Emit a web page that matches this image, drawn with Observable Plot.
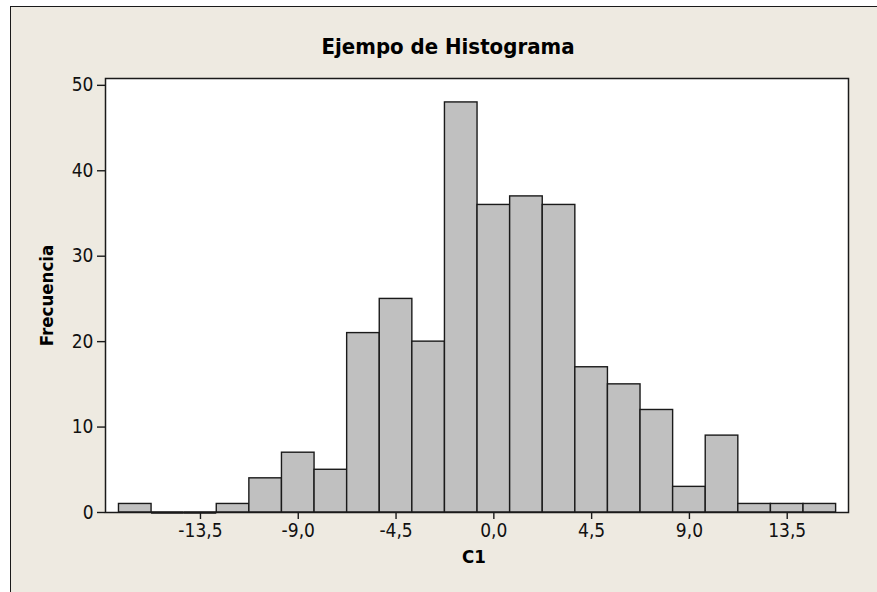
<!DOCTYPE html>
<html>
<head>
<meta charset="utf-8">
<script src="https://cdn.jsdelivr.net/npm/d3@7"></script>
<script src="https://cdn.jsdelivr.net/npm/@observablehq/plot@0.6"></script>
<style>
  html, body { margin: 0; padding: 0; background: #ffffff; overflow: hidden; }
  #bg { position: absolute; left: 10px; top: 6px; width: 900px; height: 700px;
        background: #EEEAE1; border: 1.5px solid #1a1a1a; box-sizing: border-box; }
  #chart { position: absolute; left: 0; top: 0; }
</style>
</head>
<body>
<div id="bg"></div>
<div id="chart"></div>
<script>
const title = "Ejempo de Histograma";
const xLabel = "C1";
const yLabel = "Frecuencia";
const binWidth = 1.5;
const binCenters = [-16.5, -15, -13.5, -12, -10.5, -9, -7.5, -6, -4.5, -3, -1.5, 0, 1.5, 3, 4.5, 6, 7.5, 9, 10.5, 12, 13.5, 15];
const frequencies = [1, 0, 0, 1, 4, 7, 5, 21, 25, 20, 48, 36, 37, 36, 17, 15, 12, 3, 9, 1, 1, 1];
const xTicks = [-13.5, -9, -4.5, 0, 4.5, 9, 13.5];
const yTicks = [0, 10, 20, 30, 40, 50];

const bins = binCenters.map((c, i) => ({x1: c - binWidth / 2, x2: c + binWidth / 2, n: frequencies[i]}));
const fmt = d => d.toFixed(1).replace(".", ",");
const FONT = "'DejaVu Sans Condensed', 'DejaVu Sans', sans-serif";

const chart = Plot.plot({
  width: 877,
  height: 592,
  marginLeft: 105,
  marginRight: 29,
  marginTop: 78,
  marginBottom: 80,
  style: {background: "transparent", fontFamily: FONT, fontSize: "19px", color: "#111"},
  x: {domain: [-17.87, 16.32]},
  y: {domain: [0, 50.8]},
  marks: [
    Plot.frame({fill: "white"}),
    Plot.rectY(bins.filter(d => d.n > 0), {x1: "x1", x2: "x2", y: "n", fill: "#C0C0C0", stroke: "#1a1a1a", strokeWidth: 1.4}),
    Plot.ruleY(bins.filter(d => d.n === 0), {x1: "x1", x2: "x2", y: 0, stroke: "#1a1a1a", strokeWidth: 2.5}),
    Plot.frame({stroke: "#1a1a1a", strokeWidth: 1.5}),
    Plot.axisX(xTicks, {tickSize: 7, tickPadding: 4, tickFormat: fmt, label: null, stroke: "#1a1a1a", strokeWidth: 1.4, fontSize: 19, fill: "#111"}),
    Plot.axisY(yTicks, {tickSize: 8, tickPadding: 4, tickFormat: d => String(d), label: null, stroke: "#1a1a1a", strokeWidth: 1.4, fontSize: 19, fill: "#111"}),
    Plot.text([title], {frameAnchor: "top", textAnchor: "middle", lineAnchor: "top", dx: -29, dy: -40, fontWeight: "bold", fontSize: 22, fill: "#000"}),
    Plot.text([yLabel], {frameAnchor: "left", textAnchor: "middle", lineAnchor: "middle", dx: -58, rotate: -90, fontWeight: "bold", fontSize: 18.5, fill: "#000"}),
    Plot.text([xLabel], {frameAnchor: "bottom", textAnchor: "middle", lineAnchor: "bottom", dx: -3, dy: 50, fontWeight: "bold", fontSize: 18.5, fill: "#000"})
  ]
});
document.getElementById("chart").appendChild(chart);
</script>
</body>
</html>
